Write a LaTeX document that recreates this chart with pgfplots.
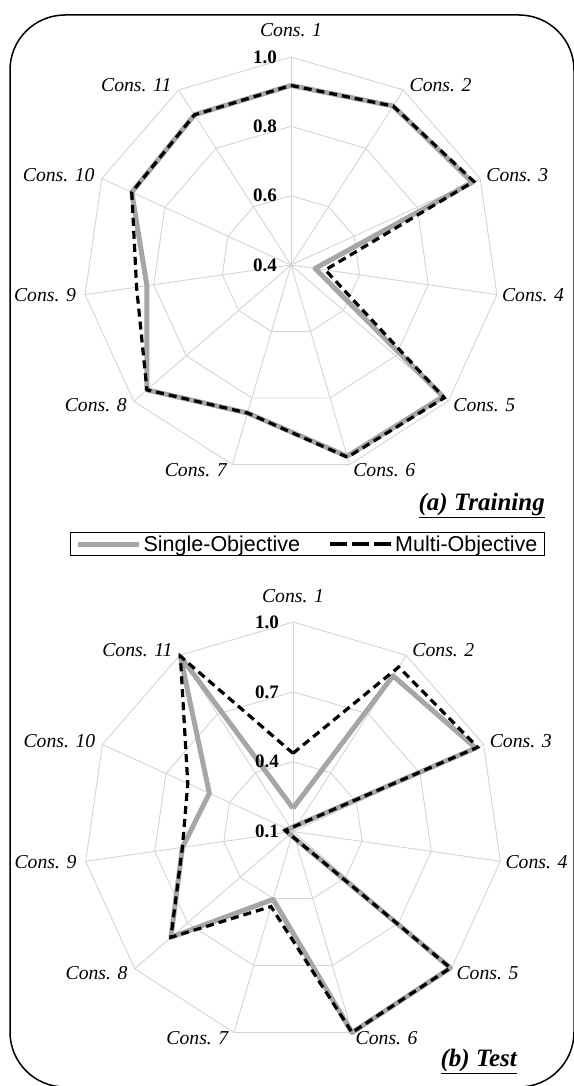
\documentclass[border=0pt]{standalone}
\usepackage{pgfplots}
\pgfplotsset{compat=1.18}
\usepackage{pgfplotstable}
\usepackage{fontspec}
\setmainfont{Liberation Serif}
\newfontfamily\arial{Liberation Sans}

\definecolor{sgray}{RGB}{166,166,166}
\definecolor{gridc}{RGB}{212,212,212}

% Training: k, single-objective, multi-objective (row 12 closes the polygon)
\pgfplotstableread{
k s m
1 0.918 0.918
2 0.945 0.945
3 0.975 0.980
4 0.470 0.500
5 0.980 0.985
6 0.975 0.978
7 0.845 0.845
8 0.950 0.950
9 0.820 0.850
10 0.905 0.905
11 0.915 0.915
12 0.918 0.918
}\trainT

% Test
\pgfplotstableread{
k s m
1 0.200 0.436
2 0.895 0.940
3 0.963 0.972
4 0.066 0.066
5 0.995 0.995
6 1.000 1.000
7 0.404 0.436
8 0.794 0.794
9 0.580 0.580
10 0.495 0.597
11 0.995 0.995
12 0.200 0.436
}\testT

\pgfplotstableread{
k d
1 0
2 0
3 0
4 0
5 0
6 0
7 0
8 0
9 0
10 0
11 0
12 0
}\kidx

\tikzset{
  gridl/.style={draw=gridc, line width=0.9pt},
  lab/.style={font=\itshape\fontsize{19.7}{22}\selectfont, inner sep=0pt},
  tck/.style={font=\bfseries\fontsize{19}{22}\selectfont, inner sep=0pt, anchor=east, xshift=-14pt},
}
\pgfplotsset{
  radar/.style={hide axis, clip=false, xmin=-1.4, xmax=1.4, ymin=-1.4, ymax=1.4, anchor=center},
  sline/.style={sgray, line width=5pt, line join=round},
  mline/.style={black, line width=3.2pt, dash pattern=on 8pt off 5pt},
}

\newcommand{\radargrid}{%
  \pgfplotsinvokeforeach{0.33333,0.66667,1}{%
    \addplot[gridl, forget plot] table[x expr={##1*sin((\thisrow{k}-1)*360/11)}, y expr={##1*cos((\thisrow{k}-1)*360/11)}]{\kidx};}
  \pgfplotsinvokeforeach{0,...,10}{%
    \draw[gridl] (axis cs:0,0) -- (axis cs:{sin(##1*360/11)},{cos(##1*360/11)});}
}
\newcommand{\radarlabels}{%
  \node[lab, anchor=base, yshift=20pt] at (axis cs:0,1) {Cons. 1};
  \node[lab, anchor=west, xshift=6pt, yshift=5pt] at (axis cs:{sin(32.727)},{cos(32.727)}) {Cons. 2};
  \node[lab, anchor=west, xshift=6pt, yshift=3.5pt] at (axis cs:{sin(65.455)},{cos(65.455)}) {Cons. 3};
  \node[lab, anchor=west, xshift=5pt, yshift=-1pt] at (axis cs:{sin(98.182)},{cos(98.182)}) {Cons. 4};
  \node[lab, anchor=west, xshift=5pt, yshift=-4pt] at (axis cs:{sin(130.909)},{cos(130.909)}) {Cons. 5};
  \node[lab, anchor=west, xshift=3.5pt, yshift=-5.5pt] at (axis cs:{sin(163.636)},{cos(163.636)}) {Cons. 6};
  \node[lab, anchor=east, xshift=-5.5pt, yshift=-5.5pt] at (axis cs:{sin(196.364)},{cos(196.364)}) {Cons. 7};
  \node[lab, anchor=east, xshift=-7pt, yshift=-4pt] at (axis cs:{sin(229.091)},{cos(229.091)}) {Cons. 8};
  \node[lab, anchor=east, xshift=-9pt, yshift=-1pt] at (axis cs:{sin(261.818)},{cos(261.818)}) {Cons. 9};
  \node[lab, anchor=east, xshift=-7pt, yshift=3.5pt] at (axis cs:{sin(294.545)},{cos(294.545)}) {Cons. 10};
  \node[lab, anchor=east, xshift=-7pt, yshift=5pt] at (axis cs:{sin(327.273)},{cos(327.273)}) {Cons. 11};
}

\begin{document}
\begin{tikzpicture}[x=1pt,y=1pt]
% ---------- (a) Training ----------
\begin{axis}[radar, at={(291pt,-265pt)}, x=208pt, y=208pt,
  legend columns=2,
  legend style={at={(0.936,0.0416)}, anchor=north east, draw=black, line width=1.2pt,
    font=\arial\fontsize{21.5}{24}\selectfont, inner xsep=5pt, inner ysep=1pt,
    /tikz/every even column/.append style={column sep=26pt}},
  legend image code/.code={\draw[#1] (0pt,0pt) -- (61pt,0pt);},
]
\radargrid
\addlegendimage{sgray, line width=5pt}
\addlegendentry{Single-Objective}
\addlegendimage{black, line width=4pt, dash pattern=on 17pt off 5pt}
\addlegendentry{Multi-Objective}
\addplot[sline, forget plot] table[x expr={(\thisrow{s}-0.4)/0.6*sin((\thisrow{k}-1)*360/11)}, y expr={(\thisrow{s}-0.4)/0.6*cos((\thisrow{k}-1)*360/11)}]{\trainT};
\addplot[mline, forget plot] table[x expr={(\thisrow{m}-0.4)/0.6*sin((\thisrow{k}-1)*360/11)}, y expr={(\thisrow{m}-0.4)/0.6*cos((\thisrow{k}-1)*360/11)}]{\trainT};
\radarlabels
\node[tck] at (axis cs:0,1) {1.0};
\node[tck] at (axis cs:0,0.66667) {0.8};
\node[tck] at (axis cs:0,0.33333) {0.6};
\node[tck] at (axis cs:0,0) {0.4};
\end{axis}

% ---------- (b) Test ----------
\begin{axis}[radar, at={(293pt,-831.5pt)}, x=209.5pt, y=209.5pt]
\radargrid
\addplot[sline] table[x expr={(\thisrow{s}-0.1)/0.9*sin((\thisrow{k}-1)*360/11)}, y expr={(\thisrow{s}-0.1)/0.9*cos((\thisrow{k}-1)*360/11)}]{\testT};
\addplot[mline] table[x expr={(\thisrow{m}-0.1)/0.9*sin((\thisrow{k}-1)*360/11)}, y expr={(\thisrow{m}-0.1)/0.9*cos((\thisrow{k}-1)*360/11)}]{\testT};
\radarlabels
\node[tck] at (axis cs:0,1) {1.0};
\node[tck] at (axis cs:0,0.66667) {0.7};
\node[tck] at (axis cs:0,0.33333) {0.4};
\node[tck] at (axis cs:0,0) {0.1};
\end{axis}

% titles
\node[anchor=base east, inner sep=0pt, font=\bfseries\itshape\fontsize{25}{28}\selectfont] at (545,-510) {\underline{(a) Training}};
\node[anchor=base east, inner sep=0pt, font=\bfseries\itshape\fontsize{25}{28}\selectfont] at (517,-1066) {\underline{(b) Test}};

% border
\draw[line width=1.5pt, rounded corners=55pt] (10,-15) rectangle (574,-1087);

\pgfresetboundingbox
\useasboundingbox (0,0) rectangle (573,-1086);
\end{tikzpicture}
\end{document}
